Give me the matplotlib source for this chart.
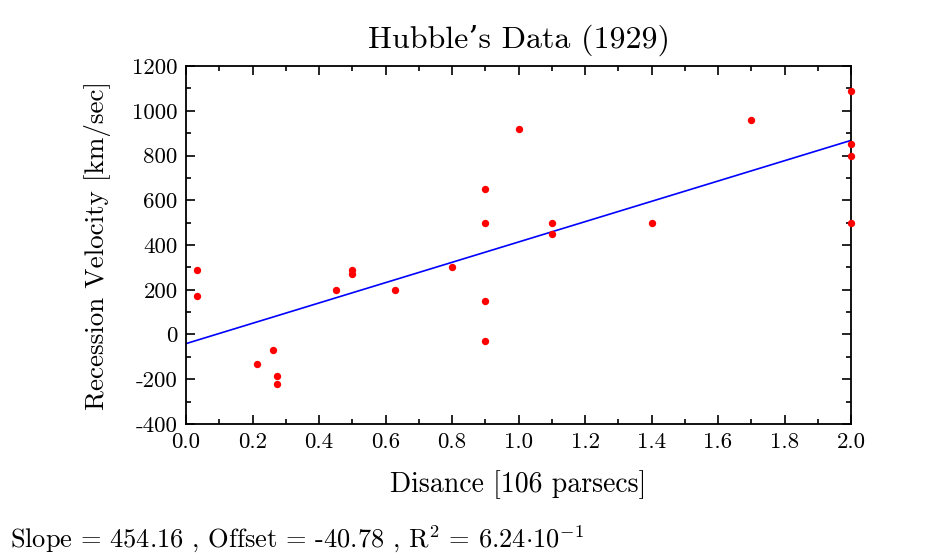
import matplotlib
matplotlib.use("Agg")
import matplotlib.pyplot as plt
import numpy as np
from matplotlib.ticker import MultipleLocator

# Hubble 1929 data
distance = [0.032, 0.034, 0.214, 0.263, 0.275, 0.275, 0.45, 0.5, 0.5, 0.63, 0.8, 0.9,
            0.9, 0.9, 0.9, 1.0, 1.1, 1.1, 1.4, 1.7, 2.0, 2.0, 2.0, 2.0]
velocity = [170, 290, -130, -70, -185, -220, 200, 290, 270, 200, 300, -30,
            650, 150, 500, 920, 450, 500, 500, 960, 500, 850, 800, 1090]

plt.rcParams["font.family"] = ["cmr10", "DejaVu Serif"]
plt.rcParams["mathtext.fontset"] = "cm"
plt.rcParams["axes.unicode_minus"] = False
plt.rcParams["axes.formatter.use_mathtext"] = False

x = np.array(distance)
y = np.array(velocity)
slope, offset = np.polyfit(x, y, 1)
r2 = np.corrcoef(x, y)[0, 1] ** 2

fig = plt.figure(figsize=(9.5, 5.57), dpi=100)
ax = fig.add_axes([0.1958, 0.2388, 0.7, 0.6427])

xs = np.array([0.0, 2.0])
ax.plot(xs, slope * xs + offset, color="#0000ff", lw=1.2, zorder=2)
ax.plot(x, y, "o", color="#ff0000", ms=5.3, mec="none", clip_on=False, zorder=3)

ax.set_xlim(0, 2.0)
ax.set_ylim(-400, 1200)
ax.xaxis.set_major_locator(MultipleLocator(0.2))
ax.xaxis.set_minor_locator(MultipleLocator(0.1))
ax.yaxis.set_major_locator(MultipleLocator(200))
ax.yaxis.set_minor_locator(MultipleLocator(100))
ax.xaxis.set_major_formatter(plt.FuncFormatter(lambda v, p: f"{v:.1f}"))
ax.yaxis.set_major_formatter(plt.FuncFormatter(lambda v, p: f"{v:.0f}"))
ax.tick_params(which="both", direction="in", top=True, right=True, width=1.2,
               labelsize=16.5)
ax.tick_params(which="major", length=6.5, pad=6)
ax.tick_params(which="minor", length=3.5)
for s in ax.spines.values():
    s.set_linewidth(1.3)

ax.set_title("Hubble’s Data (1929)", fontsize=23, pad=13)
ax.set_xlabel("Disance [106 parsecs]", fontsize=20, labelpad=13)
ax.set_ylabel("Recession Velocity [km/sec]", fontsize=19.5, labelpad=15)

mant = r2 * 10
fig.text(0.01, 0.017,
         f"Slope = {slope:.2f} , Offset = {offset:.2f} , R$^2$ = {mant:.2f}"
         + r"$\cdot$10$^{\mathrm{-1}}$",
         fontsize=19, ha="left", va="baseline")

fig.savefig("out.png", dpi=100)
